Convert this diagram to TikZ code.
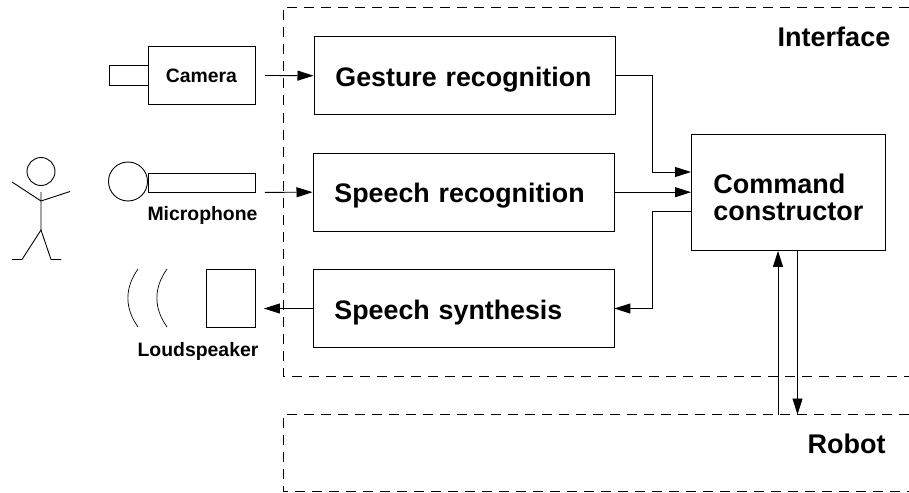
\documentclass[tikz,border=0pt]{standalone}
\usepackage{fontspec}
\setmainfont{Liberation Sans}
\usetikzlibrary{arrows.meta}

\begin{document}
\begin{tikzpicture}[x=1pt, y=-1pt, line width=0.9pt]
    \tikzset{blockbox/.style={draw, rectangle, align=left, anchor=north west,
            text width=258pt, inner xsep=21.5pt, inner ysep=0pt, minimum height=77.5pt,
            text height=27pt, text depth=6pt,
            font=\fontsize{26.8}{27}\selectfont\bfseries},
        devbox/.style={draw, rectangle, anchor=north west, inner sep=0pt},
        devlabel/.style={font=\fontsize{19.4}{22}\selectfont\bfseries, inner sep=0pt},
        zonelabel/.style={font=\fontsize{27}{27}\selectfont\bfseries, inner sep=0pt},
        zone/.style={dash pattern=on 10pt off 7pt},
        sig/.style={-{Triangle[length=16pt, width=10pt]}}}
    \useasboundingbox (0,0) rectangle (909,492);

    % zones
    \draw[zone] (909,7) -- (283.5,7) -- (283.5,376) -- (909,376);
    \draw[zone] (909,414.5) -- (283.5,414.5) -- (283.5,491.5) -- (909,491.5);
    \node[zonelabel] (interface) at (834,37) {Interface};
    \node[zonelabel] (robot) at (846.5,444) {Robot};

    % person
    \node[draw, circle, minimum size=28pt, inner sep=0pt] (head) at (41,171.5) {};
    \draw (41,192) -- (41,230) (12,182) -- (41,201) -- (70,191.5);
    \draw (12,259.5) -- (22,259.5) -- (41,230) -- (51,259.5) -- (61,259.5);

    % devices
    \node[devbox, minimum width=107pt, minimum height=58pt,
        font=\fontsize{19.4}{22}\selectfont\bfseries] (camera) at (147.5,46) {Camera};
    \node[devbox, minimum width=39pt, minimum height=19.5pt] (lens) at (108.5,65.5) {};
    \node[draw, circle, minimum size=39pt, inner sep=0pt] (capsule) at (128,181.5) {};
    \node[devbox, minimum width=107pt, minimum height=19pt] (mic) at (147.5,172.5) {};
    \node[devlabel] (miclabel) at (202.5,215) {Microphone};
    \node[devbox, minimum width=49pt, minimum height=58pt] (speaker) at (205.5,269.3) {};
    \draw[line width=0.7pt] (138,269) .. controls (124.5,288) and (124.5,308) .. (138,327);
    \draw[line width=0.7pt] (167,269) .. controls (153.5,288) and (153.5,308) .. (167,327);
    \node[devlabel] (speakerlabel) at (198,351) {Loudspeaker};

    % blocks
    \node[blockbox] (gesture) at (313.5,36.5) {Gesture recognition};
    \node[blockbox] (speech) at (312.5,153) {Speech recognition};
    \node[blockbox] (synth) at (312.5,269.3) {Speech synthesis};
    \node[draw, rectangle, align=left, anchor=north west, text width=150pt,
        inner xsep=22pt, inner ysep=0pt, minimum height=116.5pt, text height=29pt,
        font=\fontsize{27}{27}\selectfont\bfseries] (command) at (691,133.5)
        {Command\\constructor};

    \coordinate (busin) at (652,172);
    \coordinate (busout) at (652,211);
    \coordinate (robotup) at (778,414.5);
    \coordinate (robotdown) at (797.5,414.5);

    % signals
    \draw[sig, shorten <=9.5pt] (camera.east) -- (gesture.west);
    \draw[sig, shorten <=9.5pt] (mic.south east) -- (speech.west);
    \draw[sig, shorten >=8.5pt] (synth.west) -- (synth.west -| speaker.east);
    \draw[sig] (gesture.east) -| (busin) -- (busin -| command.west);
    \draw[sig] (speech.east) -- (speech.east -| command.west);
    \draw[sig] (busout -| command.west) -- (busout) |- (synth.east);
    \draw[sig] (robotup) -- (robotup |- command.south);
    \draw[sig] (robotdown |- command.south) -- (robotdown);
\end{tikzpicture}
\end{document}
